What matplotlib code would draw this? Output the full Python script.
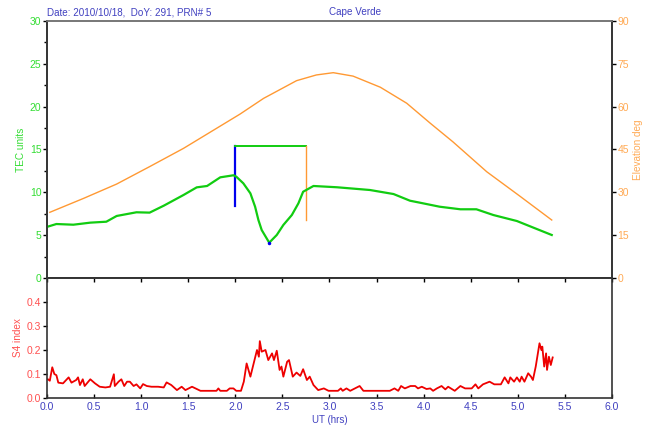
import matplotlib.pyplot as plt
import numpy as np

plt.rcParams['font.family'] = ['Liberation Sans', 'DejaVu Sans']

# TEC (green)
tec_t = [0.01, 0.10, 0.28, 0.46, 0.63, 0.74, 0.95, 1.09, 1.24, 1.45, 1.59, 1.70, 1.84,
         1.98, 2.01, 2.085, 2.16, 2.21, 2.245, 2.28, 2.36, 2.44, 2.51, 2.60, 2.67, 2.72,
         2.83, 3.08, 3.43, 3.68, 3.855, 3.96, 4.17, 4.39, 4.56, 4.74, 4.99, 5.16, 5.36]
tec_v = [6.0, 6.3, 6.22, 6.46, 6.57, 7.24, 7.67, 7.63, 8.44, 9.69, 10.58, 10.74, 11.75,
         11.99, 11.83, 11.05, 9.88, 8.32, 6.77, 5.6, 4.12, 5.02, 6.19, 7.35, 8.72, 10.07,
         10.74, 10.59, 10.27, 9.8, 9.02, 8.79, 8.32, 8.02, 8.02, 7.35, 6.65, 5.9, 5.02]

# elevation (orange)
elev_t = [0.03, 0.39, 0.74, 1.09, 1.45, 1.80, 2.05, 2.30, 2.65, 2.86, 3.04, 3.25, 3.54,
          3.82, 4.07, 4.31, 4.67, 5.02, 5.36]
elev_v = [23.0, 27.9, 32.9, 39.0, 45.4, 52.4, 57.4, 62.9, 69.1, 71.1, 71.9, 70.7, 66.8,
          61.2, 54.2, 47.7, 37.2, 28.7, 20.3]

# S4 index (red)
s4_t = [0.01, 0.03, 0.056, 0.078, 0.1, 0.12, 0.17, 0.23, 0.26, 0.31, 0.33, 0.35, 0.38, 0.4,
        0.46, 0.51, 0.56, 0.62, 0.67, 0.71, 0.72, 0.76, 0.79, 0.82, 0.85, 0.88, 0.92, 0.95,
        0.99, 1.02, 1.06, 1.11, 1.18, 1.24, 1.27, 1.32, 1.38, 1.43, 1.47, 1.54, 1.59, 1.63,
        1.80, 1.82, 1.84, 1.91, 1.94, 1.98, 2.01, 2.06, 2.09, 2.12, 2.14, 2.16, 2.19, 2.23,
        2.25, 2.26, 2.28, 2.32, 2.35, 2.39, 2.41, 2.44, 2.47, 2.49, 2.51, 2.55, 2.57, 2.61,
        2.65, 2.69, 2.72, 2.76, 2.79, 2.83, 2.88, 2.94, 2.99, 3.09, 3.12, 3.14, 3.18, 3.22,
        3.32, 3.36, 3.64, 3.69, 3.73, 3.76, 3.80, 3.86, 3.91, 3.94, 3.98, 4.03, 4.07, 4.10,
        4.14, 4.19, 4.23, 4.26, 4.33, 4.39, 4.44, 4.51, 4.55, 4.58, 4.63, 4.70, 4.75, 4.82,
        4.86, 4.90, 4.92, 4.96, 4.99, 5.02, 5.04, 5.07, 5.11, 5.14, 5.16, 5.19, 5.23, 5.25,
        5.26, 5.28, 5.30, 5.31, 5.33, 5.35, 5.37]
s4_v = [0.078, 0.072, 0.128, 0.10, 0.095, 0.064, 0.061, 0.086, 0.064, 0.075, 0.086, 0.054, 0.078, 0.05,
        0.078, 0.061, 0.047, 0.044, 0.047, 0.099, 0.05, 0.068, 0.078, 0.05, 0.068, 0.068, 0.05, 0.057,
        0.04, 0.058, 0.05, 0.047, 0.047, 0.044, 0.065, 0.054, 0.033, 0.047, 0.033, 0.047, 0.0375, 0.03,
        0.03, 0.04, 0.03, 0.03, 0.04, 0.04, 0.03, 0.03, 0.068, 0.144, 0.117, 0.089, 0.137, 0.2,
        0.172, 0.237, 0.193, 0.2, 0.158, 0.186, 0.158, 0.197, 0.117, 0.131, 0.089, 0.151, 0.158, 0.089,
        0.106, 0.092, 0.12, 0.075, 0.089, 0.054, 0.033, 0.04, 0.03, 0.03, 0.04, 0.03, 0.04, 0.03,
        0.05, 0.03, 0.03, 0.04, 0.03, 0.05, 0.04, 0.05, 0.05, 0.04, 0.047, 0.0375, 0.04, 0.03,
        0.04, 0.05, 0.036, 0.047, 0.03, 0.05, 0.04, 0.04, 0.057, 0.04, 0.057, 0.068, 0.057, 0.057,
        0.086, 0.061, 0.086, 0.068, 0.086, 0.068, 0.089, 0.068, 0.103, 0.089, 0.075, 0.131, 0.228, 0.2,
        0.214, 0.131, 0.186, 0.117, 0.172, 0.1375, 0.169]

# depletion bracket
t_start, t_end = 2.0, 2.75
bracket_top = 15.45
blue_bottom = 8.4
orange_bottom = 6.77
tec_min = (2.36, 4.1)

blue_txt = '#4040c0'
green_txt = '#33dd33'
orange_txt = '#ffaa55'
red_txt = '#ff5050'

fig = plt.figure(figsize=(6.49, 4.33), dpi=100)
ax1 = fig.add_axes([0.0724, 0.358, 0.8706, 0.5935])
ax3 = fig.add_axes([0.0724, 0.0808, 0.8706, 0.2772])
ax2 = ax1.twinx()

ax1.plot(tec_t, tec_v, color='#11cc11', lw=1.6, zorder=3)
ax1.plot([t_start, t_start], [blue_bottom, bracket_top], color='#0000ee', lw=1.6)
ax1.plot([t_start, t_end], [bracket_top, bracket_top], color='#11cc11', lw=1.4)
ax1.plot([t_end, t_end], [bracket_top, orange_bottom], color='#ff9933', lw=1.0)
ax1.plot([tec_min[0]], [tec_min[1]], marker='o', ms=1.5, color='#0000ee', zorder=4)
ax2.plot(elev_t, elev_v, color='#ff9933', lw=1.0)
ax3.plot(s4_t, s4_v, color='#ee0000', lw=1.3)

ax1.set_xlim(0, 6)
ax1.set_ylim(0, 30)
ax1.set_yticks(np.arange(0, 31, 5))
ax1.set_yticks(np.arange(2.5, 30, 5), minor=True)
ax1.set_xticks([])
ax2.set_ylim(0, 90)
ax2.set_yticks(np.arange(0, 91, 15))
ax3.set_xlim(0, 6)
ax3.set_ylim(0, 0.5)
ax3.set_yticks([0.0, 0.1, 0.2, 0.3, 0.4])
ax3.set_xticks(np.arange(0, 6.01, 0.5))
ax3.set_yticklabels(['0.0', '0.1', '0.2', '0.3', '0.4'])
ax3.set_xticklabels(['%.1f' % v for v in np.arange(0, 6.01, 0.5)])

fs = 7.5
ax1.tick_params(axis='y', labelsize=fs, labelcolor=green_txt, length=3, width=1, pad=1)
ax1.tick_params(axis='y', which='minor', length=2, width=1)
ax2.tick_params(axis='y', labelsize=fs, labelcolor=orange_txt, length=3, width=1, pad=1)
ax3.tick_params(axis='y', labelsize=fs, labelcolor=red_txt, length=3, width=1, pad=1)
ax3.tick_params(axis='x', labelsize=fs, labelcolor=blue_txt, length=3, width=1, pad=3,
                top=True, direction='in')

for a in (ax1, ax2, ax3):
    for s in a.spines.values():
        s.set_color('#333333')
        s.set_linewidth(1.2)
ax1.spines['top'].set_color('#777777')
ax2.spines['top'].set_color('#777777')

ax1.set_ylabel('TEC units', color=green_txt, fontsize=7.2, labelpad=3)
ax2.set_ylabel('Elevation deg', color=orange_txt, fontsize=7.2, labelpad=3)
ax3.set_ylabel('S4 index', color=red_txt, fontsize=7.2, labelpad=3)
ax3.set_xlabel('UT (hrs)', color=blue_txt, fontsize=7.0, labelpad=2)

ax1.text(0.0, 1.014, 'Date: 2010/10/18,  DoY: 291, PRN# 5', transform=ax1.transAxes,
         color=blue_txt, fontsize=7.1, ha='left', va='bottom')
ax1.text(0.5, 1.014, 'Cape Verde', transform=ax1.transAxes,
         color=blue_txt, fontsize=7.1, ha='left', va='bottom')

plt.savefig('out.png', dpi=100)
